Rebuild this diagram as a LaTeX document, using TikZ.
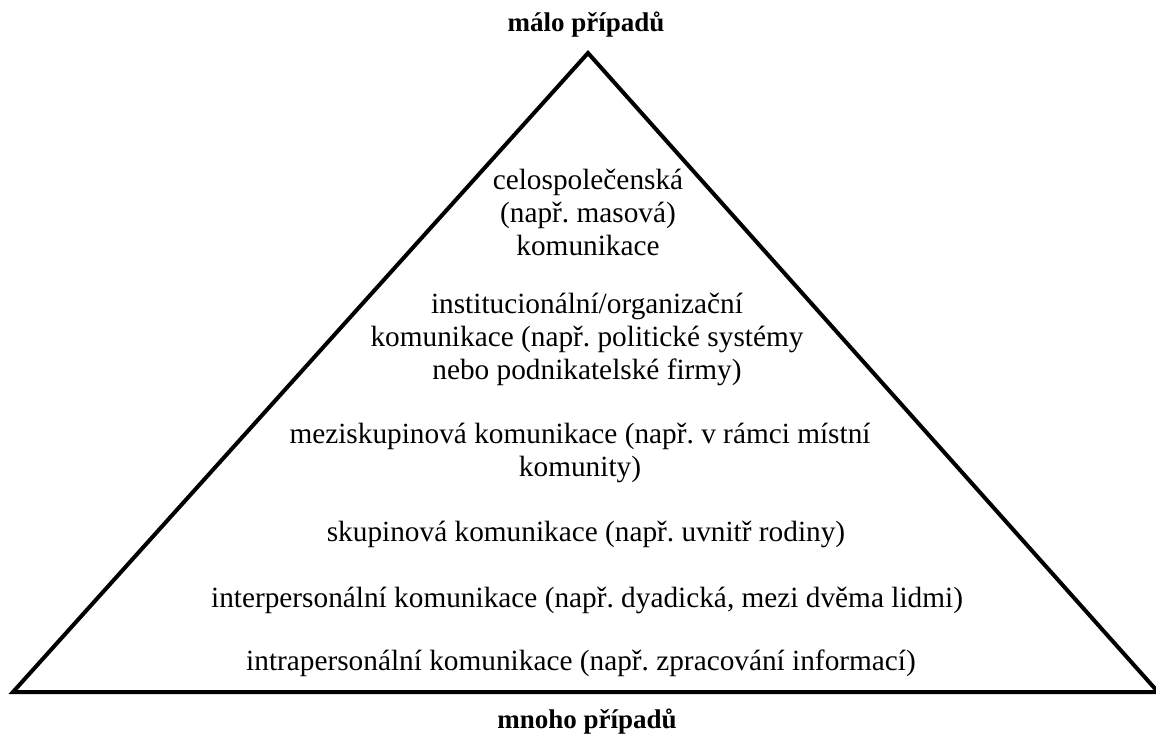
\documentclass[tikz,border=0pt]{standalone}
\usepackage{fontspec}
\setmainfont{Liberation Serif}
\frenchspacing
\begin{document}
\begin{tikzpicture}[x=1pt,y=-1pt,
  lvl/.style={font=\fontsize{29.3}{33}\selectfont,align=center,inner sep=0pt,anchor=center},
  ttl/.style={font=\fontsize{27}{30}\selectfont\bfseries,inner sep=0pt,anchor=center},
  edge/.style={line width=4pt,line join=miter}]
\useasboundingbox (0,0) rectangle (1156,742);
\coordinate (apex) at (588,53);
\coordinate (bl) at (13,692);
\coordinate (br) at (1158,692);
\draw[edge] (apex) -- (br) -- (bl) -- cycle;
\node[ttl] (top) at (586,25) {málo případů};
\node[ttl] (bottom) at (587,722) {mnoho případů};
\node[lvl] (l6) at (588,212) {celospolečenská\\(např. masová)\\komunikace};
\node[lvl] (l5) at (587,339) {institucionální/organizační\\komunikace (např. politické systémy\\nebo podnikatelské firmy)};
\node[lvl] (l4) at (580,453) {meziskupinová komunikace (např. v rámci místní\\komunity)};
\node[lvl] (l3) at (586,534) {skupinová komunikace (např. uvnitř rodiny)};
\node[lvl] (l2) at (587,600) {interpersonální komunikace (např. dyadická, mezi dvěma lidmi)};
\node[lvl] (l1) at (581,663) {intrapersonální komunikace (např. zpracování informací)};
\end{tikzpicture}
\end{document}
